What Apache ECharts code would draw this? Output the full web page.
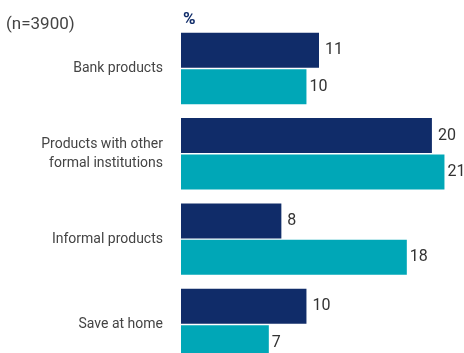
<!DOCTYPE html>
<html><head><meta charset="utf-8">
<script src="https://cdn.jsdelivr.net/npm/echarts@6/dist/echarts.min.js"></script>
<style>html,body{margin:0;padding:0;background:#fff;overflow:hidden;width:464px;height:353px}#c{width:464px;height:370px}</style>
</head><body><div id="c"></div>
<script>
const categories = ["Bank products", "Products with other\nformal institutions", "Informal products", "Save at home"];
const seriesA = [11, 20, 8, 10];
const seriesB = [10, 21, 18, 7];
const FONT = "'Roboto', sans-serif";
const chart = echarts.init(document.getElementById('c'));
chart.setOption({
  animation: false,
  graphic: [
    {type: 'text', left: 6, top: 16, style: {text: '(n=3900)', font: '17px ' + FONT, fill: '#444'}},
    {type: 'text', left: 183, top: 11, style: {text: '%', font: 'bold 17px ' + FONT, fill: '#102c69'}}
  ],
  grid: {left: 181, top: 25.8, width: 276, height: 341.3},
  xAxis: {type: 'value', min: 0, max: 22, show: false},
  yAxis: {
    type: 'category', data: categories, inverse: true,
    axisLine: {show: false}, axisTick: {show: false},
    axisLabel: {margin: 18, fontSize: 14, lineHeight: 19, color: '#444', fontFamily: FONT}
  },
  series: [
    {type: 'bar', data: seriesA, barWidth: 35, barGap: '4%', itemStyle: {color: '#102c69'},
     label: {show: true, position: 'right', distance: 6, fontSize: 16, color: '#333', fontFamily: FONT}},
    {type: 'bar', data: seriesB, barWidth: 35, barGap: '4%', itemStyle: {color: '#00a7b7'},
     label: {show: true, position: 'right', distance: 3, fontSize: 16, color: '#333', fontFamily: FONT}}
  ]
});
</script></body></html>
